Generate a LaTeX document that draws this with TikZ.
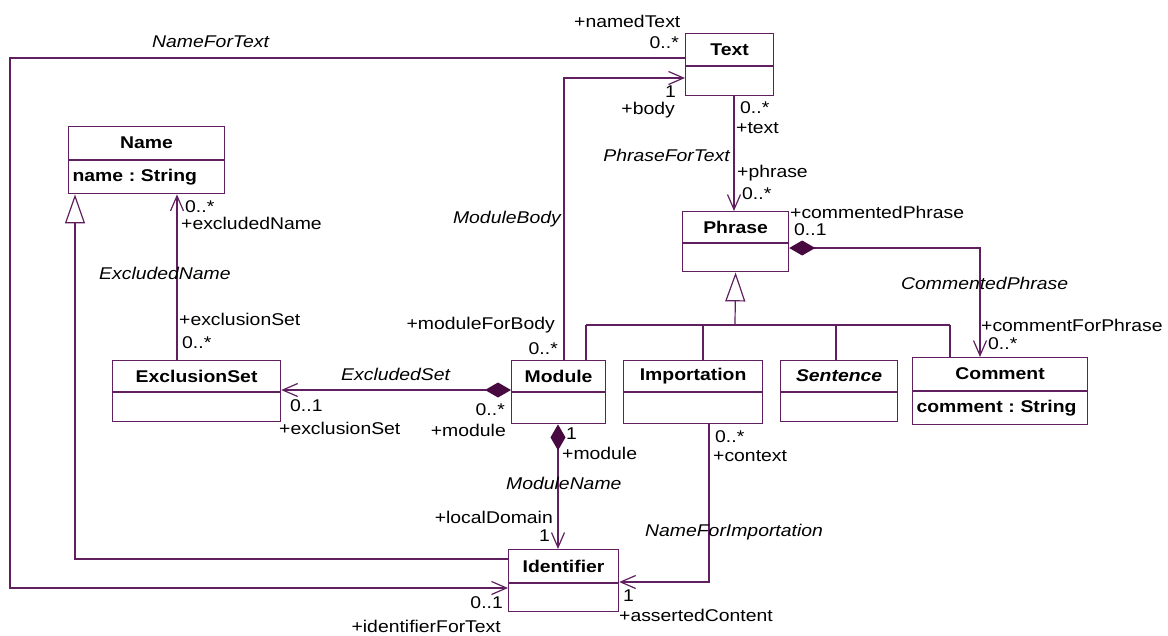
\documentclass[tikz,border=0pt]{standalone}
\usepackage{fontspec}
\setmainfont{Liberation Sans}[FakeStretch=1.14]
\usetikzlibrary{arrows.meta}
\definecolor{umlline}{RGB}{96,32,96}
\definecolor{umldiam}{RGB}{72,8,64}
\newcommand{\umlsize}{\fontsize{17}{19}\selectfont\frenchspacing}
\tikzset{
	classhead/.style={draw=umlline,line width=1.2pt,anchor=north west,inner sep=0pt,font=\umlsize\bfseries},
	classbody/.style={draw=umlline,line width=1.2pt,anchor=north west,inner sep=0pt},
	attrib/.style={classbody,font=\umlsize\bfseries,align=left,inner xsep=4pt},
	assoc/.style={draw=umlline,line width=1.2pt,-{Straight Barb[length=15pt,width=13pt]}},
	compo/.style={draw=umlline,line width=1.2pt,{Diamond[length=26pt,width=15pt,fill=umldiam,color=umldiam]}-{Straight Barb[length=15pt,width=13pt]}},
	gener/.style={draw=umlline,line width=1.2pt,-{Triangle[open,length=29pt,width=20pt]}},
	tree/.style={draw=umlline,line width=1.2pt},
	role/.style={inner sep=0pt,font=\umlsize},
	assocname/.style={inner sep=0pt,font=\umlsize\itshape}
}
\begin{document}
\begin{tikzpicture}[x=1pt,y=-1pt]
		\useasboundingbox (0,0) rectangle (1168,635);
		\begin{scope}
			% classes
			\node[classhead,minimum width=88,minimum height=32] (textT) at (685,33) {Text};
			\node[classbody,minimum width=88,minimum height=29] (textB) at (textT.south west) {};
			\node[classhead,minimum width=156,minimum height=33] (nameT) at (68,126) {Name};
			\node[attrib,text width=148,minimum height=33] (nameB) at (nameT.south west) {name : String};
			\node[classhead,minimum width=106,minimum height=31] (phraseT) at (682,211) {Phrase};
			\node[classbody,minimum width=106,minimum height=28] (phraseB) at (phraseT.south west) {};
			\node[classhead,minimum width=168,minimum height=31] (exclT) at (112,360) {ExclusionSet};
			\node[classbody,minimum width=168,minimum height=29] (exclB) at (exclT.south west) {};
			\node[classhead,minimum width=94,minimum height=31] (moduleT) at (511,360) {Module};
			\node[classbody,minimum width=94,minimum height=31] (moduleB) at (moduleT.south west) {};
			\node[classhead,minimum width=139,minimum height=31] (importT) at (623,360) {Importation};
			\node[classbody,minimum width=139,minimum height=31] (importB) at (importT.south west) {};
			\node[classhead,font=\umlsize\bfseries\itshape,minimum width=117,minimum height=31] (sentT) at (780,360) {Sentence};
			\node[classbody,minimum width=117,minimum height=29] (sentB) at (sentT.south west) {};
			\node[classhead,minimum width=175,minimum height=33] (commentT) at (912,357) {Comment};
			\node[attrib,text width=167,minimum height=33] (commentB) at (commentT.south west) {comment : String};
			\node[classhead,minimum width=110,minimum height=33] (identT) at (508,549) {Identifier};
			\node[classbody,minimum width=110,minimum height=28] (identB) at (identT.south west) {};

			% associations
			\coordinate (ntA) at (10,58);
			\coordinate (ntB) at (10,588);
			\draw[assoc] (textT.west |- ntA) -- (ntA) -- (ntB) -- (identB.west |- ntB);
			\coordinate (mb) at (564,78);
			\draw[assoc] (moduleT.north -| mb) -- (mb) -- (textB.west |- mb);
			\coordinate (pft) at (734,0);
			\draw[assoc] (textB.south -| pft) -- (phraseT.north -| pft);
			\coordinate (cp) at (980,248);
			\draw[compo] (phraseB.east |- cp) -- (cp) -- (commentT.north -| cp);
			\coordinate (en) at (177,0);
			\draw[assoc] (exclT.north -| en) -- (nameB.south -| en);
			\coordinate (es) at (0,390);
			\draw[compo] (moduleT.west |- es) -- (exclT.east |- es);
			\coordinate (mn) at (558,0);
			\draw[compo] (moduleB.south -| mn) -- (identT.north -| mn);
			\coordinate (nfi) at (709,582);
			\draw[assoc] (importB.south -| nfi) -- (nfi) -- (identB.east |- nfi);

			% generalizations
			\coordinate (gl) at (586,325);
			\coordinate (gr) at (950,325);
			\coordinate (gtop) at (735,325);
			\draw[tree] (gl) -- (gr);
			\foreach \cls/\xx in {moduleT/586,importT/703,sentT/836,commentT/950}{
				\coordinate (g) at (\xx,325);
				\draw[tree] (g) -- (g |- \cls.north);
			}
			\draw[gener] (gtop) -- (phraseB.south);
			\coordinate (ng) at (75,559);
			\draw[gener] (identT.west |- ng) -- (ng) -- (nameB.south -| ng);

			% association names
			\node[assocname,anchor=west] (nNameForText) at (152,42) {NameForText};
			\node[assocname,anchor=east] (nPhraseForText) at (730,155) {PhraseForText};
			\node[assocname,anchor=west] (nCommentedPhrase) at (901,283) {CommentedPhrase};
			\node[assocname,anchor=west] (nExcludedName) at (99,273) {ExcludedName};
			\node[assocname,anchor=east] (nModuleBody) at (561,219) {ModuleBody};
			\node[assocname,anchor=west] (nExcludedSet) at (341,374) {ExcludedSet};
			\node[assocname,anchor=west] (nModuleName) at (506,483) {ModuleName};
			\node[assocname,anchor=west] (nNameForImport) at (645,532) {NameForImportation};

			% roles and multiplicities
			\node[role,anchor=west] (rNamedText) at (574,21) {+namedText};
			\node[role,anchor=east] (mNamedText) at (679,43) {0..*};
			\node[role,anchor=east] (mBody) at (676,92) {1};
			\node[role,anchor=east] (rBody) at (675,110) {+body};
			\node[role,anchor=west] (mText) at (740,108) {0..*};
			\node[role,anchor=west] (rText) at (736,128) {+text};
			\node[role,anchor=west] (rPhrase) at (737,173) {+phrase};
			\node[role,anchor=west] (mPhrase) at (742,194) {0..*};
			\node[role,anchor=west] (rCommentedPhrase) at (790,212) {+commentedPhrase};
			\node[role,anchor=west] (mCommentedPhrase) at (794,230) {0..1};
			\node[role,anchor=west] (rCommentForPhrase) at (981,325) {+commentForPhrase};
			\node[role,anchor=west] (mCommentForPhrase) at (988,344) {0..*};
			\node[role,anchor=west] (mExcludedName) at (185,207) {0..*};
			\node[role,anchor=west] (rExcludedName) at (181,223) {+excludedName};
			\node[role,anchor=west] (rExclusionSetA) at (179,319) {+exclusionSet};
			\node[role,anchor=west] (mExclusionSetA) at (182,343) {0..*};
			\node[role,anchor=east] (rModuleForBody) at (555,325) {+moduleForBody};
			\node[role,anchor=east] (mModuleForBody) at (558,349) {0..*};
			\node[role,anchor=west] (mExclusionSetB) at (290,406) {0..1};
			\node[role,anchor=west] (rExclusionSetB) at (279,428) {+exclusionSet};
			\node[role,anchor=east] (mModuleA) at (505,410) {0..*};
			\node[role,anchor=east] (rModuleA) at (506,430) {+module};
			\node[role,anchor=west] (mModuleB) at (566,434) {1};
			\node[role,anchor=west] (rModuleB) at (562,453) {+module};
			\node[role,anchor=east] (rLocalDomain) at (553,517) {+localDomain};
			\node[role,anchor=east] (mLocalDomain) at (550,536) {1};
			\node[role,anchor=west] (mContext) at (715,437) {0..*};
			\node[role,anchor=west] (rContext) at (713,456) {+context};
			\node[role,anchor=west] (mAsserted) at (623,596) {1};
			\node[role,anchor=west] (rAsserted) at (619,615) {+assertedContent};
			\node[role,anchor=east] (mIdentForText) at (503,603) {0..1};
			\node[role,anchor=east] (rIdentForText) at (501,626) {+identifierForText};
		\end{scope}
	\end{tikzpicture}
\end{document}
